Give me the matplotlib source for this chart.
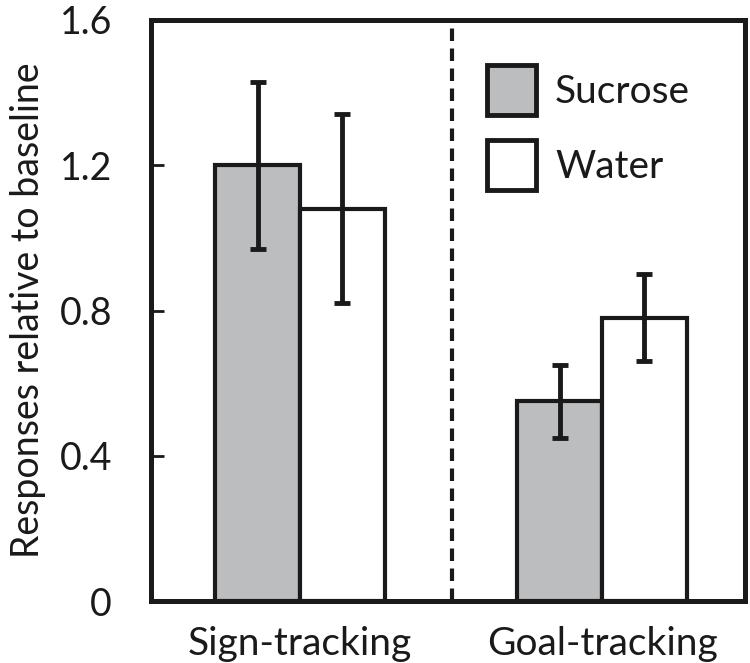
import matplotlib
matplotlib.use("Agg")
import matplotlib.pyplot as plt
import numpy as np

groups = ["Sign-tracking", "Goal-tracking"]
series = ["Sucrose", "Water"]
sucrose = [1.20, 0.55]
water = [1.08, 0.78]
sucrose_err = [0.23, 0.10]
water_err = [0.26, 0.12]
yticks = [0, 0.4, 0.8, 1.2, 1.6]
ytick_labels = ["0", "0.4", "0.8", "1.2", "1.6"]

plt.rcParams['font.family'] = ['Lato', 'DejaVu Sans']

fig = plt.figure(figsize=(7.5, 6.63), dpi=100)
W, H = 750, 663
ax = fig.add_axes([151/W, 1 - 601/H, (745-151)/W, (601-20)/H])

x = np.arange(len(groups))
w = 0.28
bar_kw = dict(width=w, edgecolor='#1a1a1a', linewidth=3.0, zorder=2)
ax.bar(x - w/2, sucrose, color='#bcbdbf', label=series[0], **bar_kw)
ax.bar(x + w/2, water, color='white', label=series[1], **bar_kw)
err_kw = dict(fmt='none', ecolor='#1a1a1a', elinewidth=3.5, capsize=6, capthick=3.5, zorder=3)
ax.errorbar(x - w/2, sucrose, yerr=sucrose_err, **err_kw)
ax.errorbar(x + w/2, water, yerr=water_err, **err_kw)

ax.axvline(0.503, color='#1a1a1a', linestyle=(0, (3, 1.8)), linewidth=3.0, zorder=1)

ax.set_xlim(-0.493, 1.473)
ax.set_ylim(0, 1.6)
ax.set_yticks(yticks)
ax.set_yticklabels(ytick_labels, fontsize=27)
ax.set_xticks(x)
ax.set_xticklabels(groups, fontsize=28)
ax.tick_params(axis='y', direction='in', length=9, width=2, pad=28, colors='#1a1a1a')
ax.tick_params(axis='x', length=0, pad=18, colors='#1a1a1a')
for s in ax.spines.values():
    s.set_linewidth(3.6)
    s.set_color('#1a1a1a')
ax.set_ylabel("Responses relative to baseline", fontsize=27, color='#1a1a1a', labelpad=10)

leg = ax.legend(loc='upper left', bbox_to_anchor=((487-151)/594, (601-65)/581),
                frameon=False, fontsize=28, handlelength=1.25, handleheight=1.6,
                handletextpad=0.5, labelspacing=0.65, borderpad=0, borderaxespad=0)
for t in leg.get_texts():
    t.set_color('#1a1a1a')
for p in leg.get_patches():
    p.set_linewidth(3.5)

fig.savefig("out.png", dpi=100)
